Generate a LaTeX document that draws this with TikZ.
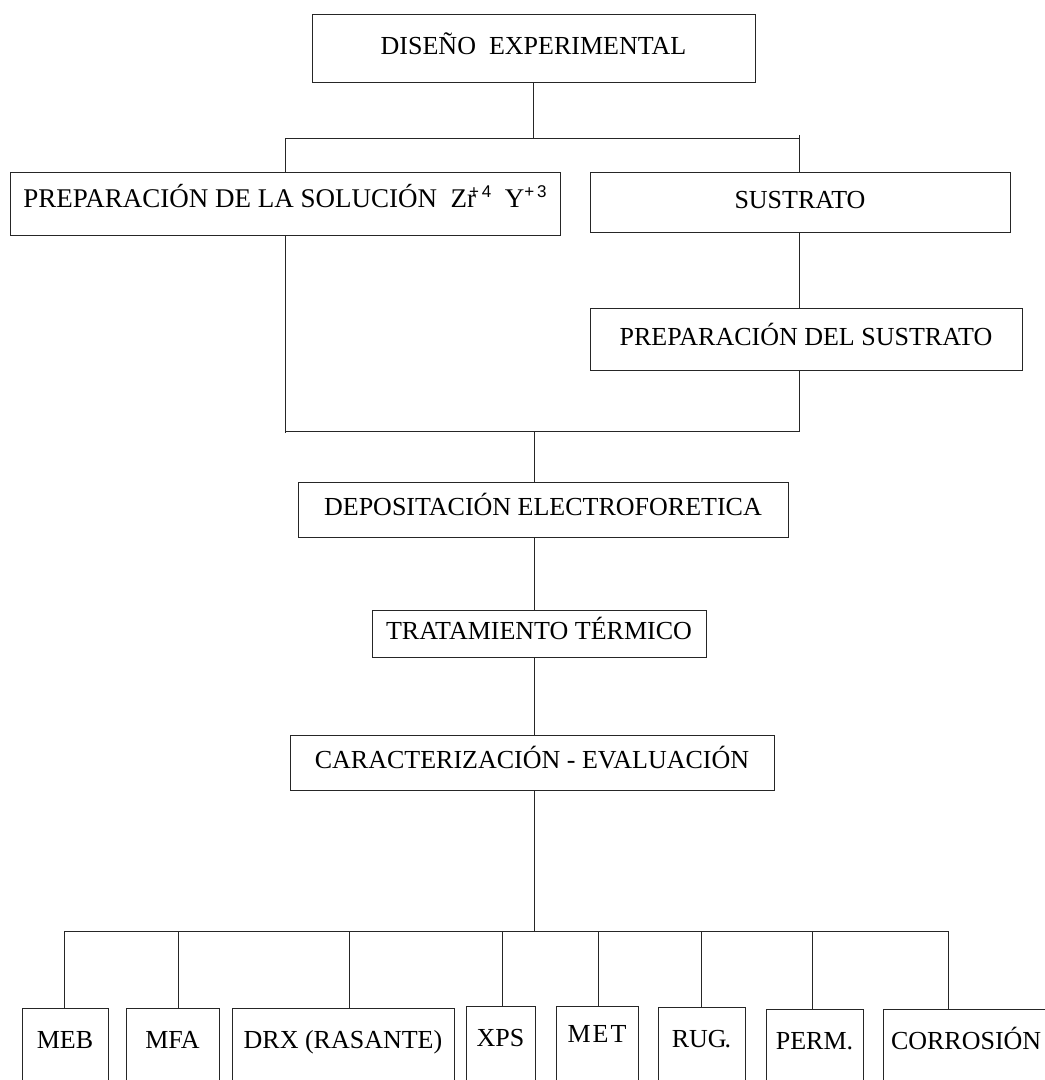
\documentclass[tikz,border=0pt]{standalone}
\usepackage{fontspec}
\setmainfont{Liberation Serif}
\setsansfont{Liberation Sans}
\newcommand{\supsf}[1]{\raisebox{10pt}{\sffamily\fontsize{17}{17}\selectfont #1}}
\begin{document}
\begin{tikzpicture}[x=1pt,y=-1pt,
  line width=1pt, draw=black!85,
  box/.style={draw=black!85, line width=1pt, rectangle, inner sep=0pt,
    font=\fontsize{26}{30}\selectfont, text height=18pt, text depth=6pt},
  bbox/.style={box, anchor=north, text height=40pt, text depth=80pt},
  conn/.style={draw=black!85, line width=1pt}]
\useasboundingbox (0,0) rectangle (1045,1080);
\clip (0,0) rectangle (1045,1080);

% main boxes
\node[box, minimum width=443pt, minimum height=68pt] (dis) at (533.5,48) {DISEÑO\ \ EXPERIMENTAL};
\node[box, minimum width=550pt, minimum height=63pt, text depth=11pt,
  font=\fontsize{27}{30}\selectfont] (sol) at (285,203.5)
  {PREPARACIÓN DE LA SOLUCIÓN\ \ Zr\kern-7pt\supsf{+\,4}\ \ Y\supsf{+\,3}};
\node[box, minimum width=420pt, minimum height=60pt] (sus) at (800,202) {SUSTRATO};
\node[box, minimum width=432pt, minimum height=62pt] (psus) at (806,339) {PREPARACIÓN DEL SUSTRATO};
\node[box, minimum width=490pt, minimum height=55pt] (dep) at (543,509.5) {DEPOSITACIÓN ELECTROFORETICA};
\node[box, minimum width=334pt, minimum height=47pt] (tt) at (539,633.5) {TRATAMIENTO TÉRMICO};
\node[box, minimum width=484pt, minimum height=55pt] (car) at (532,762.5) {CARACTERIZACIÓN - EVALUACIÓN};

% bottom boxes
\node[bbox, minimum width=86pt] (meb) at (65,1008) {MEB};
\node[bbox, minimum width=93pt] (mfa) at (172.5,1008) {MFA};
\node[bbox, minimum width=222pt] (drx) at (343,1008) {DRX (RASANTE)};
\node[bbox, minimum width=69pt] (xps) at (500.5,1006) {XPS};
\node[bbox, minimum width=82pt, text height=36pt] (met) at (597,1006) {M\kern2pt E\kern2pt T};
\node[bbox, minimum width=87pt] (rug) at (701.5,1007) {RUG\kern-2pt.};
\node[bbox, minimum width=97pt] (perm) at (814.5,1009) {PERM.};
\node[bbox, minimum width=180pt, align=left, text width=164pt] (corr) at (973,1009) {CORROSIÓN};

% upper connectors
\coordinate (bl) at (285,138);
\coordinate (br) at (799,138);
\draw[conn] (dis.south) -- (dis.south |- bl);
\draw[conn] (bl) -- (br);
\draw[conn] (bl) -- (bl |- sol.north);
\draw[conn] ([yshift=3pt]br) -- (br |- sus.north);
\draw[conn] (br |- sus.south) -- (br |- psus.north);

\coordinate (cl) at (285,431);
\coordinate (cr) at (799,431);
\coordinate (cm) at (534,431);
\draw[conn] (cl |- sol.south) -- ([yshift=-2pt]cl);
\draw[conn] (cl) -- (cr) -- (cr |- psus.south);
\draw[conn] (cm) -- (cm |- dep.north);
\draw[conn] (cm |- dep.south) -- (cm |- tt.north);
\draw[conn] (cm |- tt.south) -- (cm |- car.north);

% bottom bus
\coordinate (d1) at (64,931);
\coordinate (d2) at (178,931);
\coordinate (d3) at (349,931);
\coordinate (d4) at (502,931);
\coordinate (d5) at (598,931);
\coordinate (d6) at (701,931);
\coordinate (d7) at (812,931);
\coordinate (d8) at (948,931);
\draw[conn] (cm |- car.south) -- (cm |- d1);
\draw[conn] (d1) -- (d8);
\draw[conn] (d1) -- (d1 |- meb.north);
\draw[conn] (d2) -- (d2 |- mfa.north);
\draw[conn] (d3) -- (d3 |- drx.north);
\draw[conn] (d4) -- (d4 |- xps.north);
\draw[conn] (d5) -- (d5 |- met.north);
\draw[conn] (d6) -- (d6 |- rug.north);
\draw[conn] (d7) -- (d7 |- perm.north);
\draw[conn] (d8) -- (d8 |- corr.north);
\end{tikzpicture}
\end{document}
